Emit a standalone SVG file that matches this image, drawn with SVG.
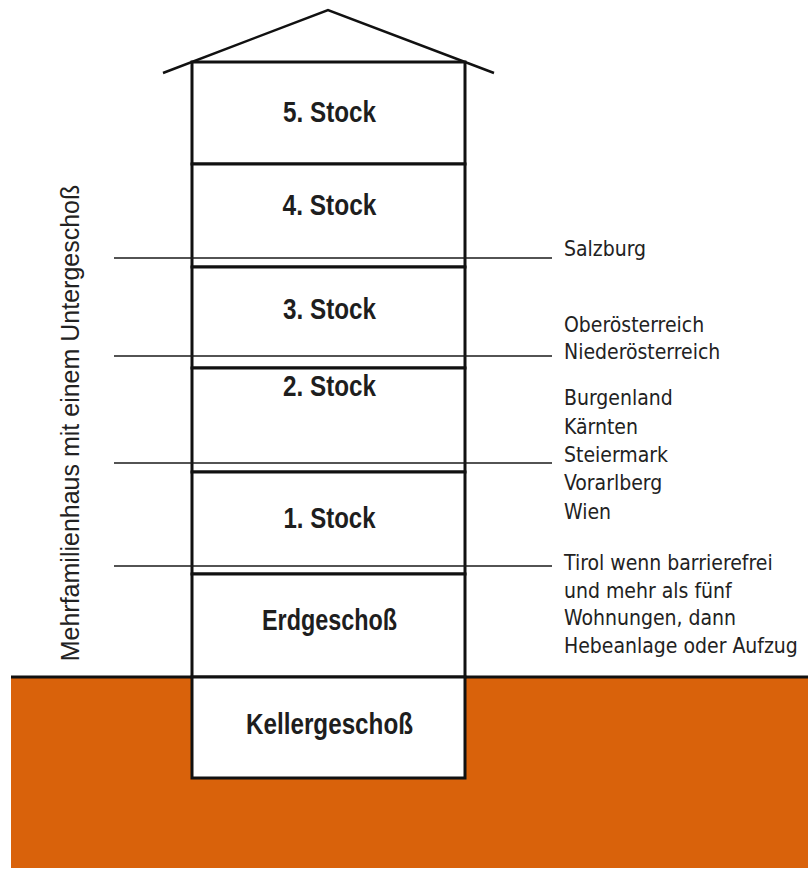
<svg xmlns="http://www.w3.org/2000/svg" width="808" height="872" viewBox="0 0 808 872">
  <style>
    .floor { fill: #ffffff; stroke: #111111; stroke-width: 3; }
    .flabel { font-family: "Liberation Sans", Arial, sans-serif; font-weight: bold; font-size: 29px; fill: #1e1e1e; text-anchor: middle; }
    .level { stroke: #1a1a1a; stroke-width: 1.6; fill: none; }
    .note { font-family: "DejaVu Sans Condensed", "DejaVu Sans", sans-serif; font-stretch: condensed; font-size: 21px; fill: #222222; }
    .side { font-family: "Liberation Sans", Arial, sans-serif; font-size: 25px; fill: #222222; text-anchor: middle; }
  </style>

  <rect width="808" height="872" fill="#ffffff"/>

  <!-- ground -->
  <g id="ground">
    <rect x="11" y="677" width="797" height="191" fill="#d9620b"/>
    <line x1="11" y1="677" x2="808" y2="677" stroke="#111111" stroke-width="3"/>
  </g>

  <!-- roof -->
  <g id="roof">
    <polyline points="163,73 328,10 494,73" fill="none" stroke="#111111" stroke-width="2.5"/>
  </g>

  <!-- storeys -->
  <g id="stock5">
    <rect class="floor" x="192" y="62" width="273" height="102"/>
    <text class="flabel" x="329.5" y="122" textLength="93" lengthAdjust="spacingAndGlyphs">5. Stock</text>
  </g>
  <g id="stock4">
    <rect class="floor" x="192" y="164" width="273" height="103"/>
    <text class="flabel" x="329.5" y="215" textLength="94" lengthAdjust="spacingAndGlyphs">4. Stock</text>
  </g>
  <g id="stock3">
    <rect class="floor" x="192" y="267" width="273" height="101"/>
    <text class="flabel" x="329.5" y="319" textLength="93" lengthAdjust="spacingAndGlyphs">3. Stock</text>
  </g>
  <g id="stock2">
    <rect class="floor" x="192" y="368" width="273" height="104"/>
    <text class="flabel" x="329.5" y="396" textLength="93" lengthAdjust="spacingAndGlyphs">2. Stock</text>
  </g>
  <g id="stock1">
    <rect class="floor" x="192" y="472" width="273" height="102"/>
    <text class="flabel" x="329.5" y="528" textLength="92" lengthAdjust="spacingAndGlyphs">1. Stock</text>
  </g>
  <g id="erdgeschoss">
    <rect class="floor" x="192" y="574" width="273" height="103"/>
    <text class="flabel" x="329.5" y="630" textLength="135" lengthAdjust="spacingAndGlyphs">Erdgeschoß</text>
  </g>
  <g id="kellergeschoss">
    <rect class="floor" x="192" y="677" width="273" height="101"/>
    <text class="flabel" x="329.5" y="734" textLength="167" lengthAdjust="spacingAndGlyphs">Kellergeschoß</text>
  </g>

  <!-- level lines -->
  <g id="connectors">
    <line class="level" x1="114" y1="258" x2="552" y2="258"/>
    <line class="level" x1="114" y1="356" x2="552" y2="356"/>
    <line class="level" x1="114" y1="463" x2="552" y2="463"/>
    <line class="level" x1="114" y1="566" x2="552" y2="566"/>
  </g>

  <!-- state notes -->
  <g id="notes" class="note">
    <text x="564" y="256">Salzburg</text>
    <text x="564" y="332">Oberösterreich</text>
    <text x="564" y="359">Niederösterreich</text>
    <text x="564" y="405">Burgenland</text>
    <text x="564" y="434">Kärnten</text>
    <text x="564" y="462">Steiermark</text>
    <text x="564" y="490">Vorarlberg</text>
    <text x="564" y="519">Wien</text>
    <text x="564" y="570">Tirol wenn barrierefrei</text>
    <text x="564" y="597.5">und mehr als fünf</text>
    <text x="564" y="625">Wohnungen, dann</text>
    <text x="564" y="652.5">Hebeanlage oder Aufzug</text>
  </g>

  <!-- side caption -->
  <g id="caption">
    <text class="side" transform="translate(79,423) rotate(-90)">Mehrfamilienhaus mit einem Untergeschoß</text>
  </g>
</svg>
